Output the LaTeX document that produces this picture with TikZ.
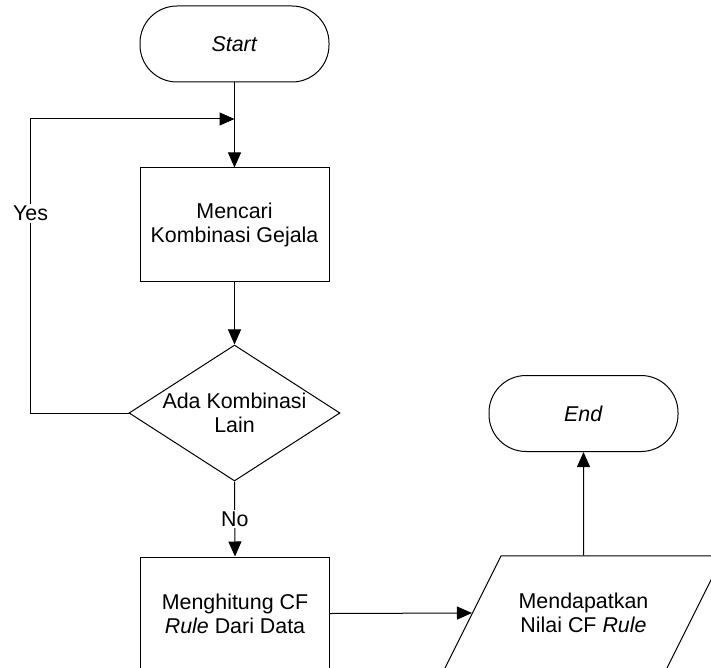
\documentclass[tikz,border=0pt]{standalone}
\usepackage{fontspec}
\setmainfont{Liberation Sans}
\usetikzlibrary{arrows.meta,shapes.geometric}
\tikzset{
    every node/.style={
	font=\fontsize{10.7pt}{12pt}\selectfont,
    },
    terminal/.style={
	rectangle,
	rounded corners=18.5pt,
	draw=black,
	line width=0.5pt,
	minimum width=94.5pt,
	minimum height=38pt,
	inner sep=0pt
    },
    process/.style={
	rectangle,
	draw=black,
	line width=0.5pt,
	minimum width=94.5pt,
	minimum height=56.5pt,
	align=center,
	inner sep=0pt
    },
    decision/.style={
	diamond,
	draw=black,
	line width=0.5pt,
	minimum width=105.5pt,
	minimum height=68pt,
	inner sep=0pt
    },
    io/.style={
	trapezium,
	trapezium left angle=63.43,
	trapezium right angle=116.57,
	trapezium stretches body,
	draw=black,
	line width=0.5pt,
	minimum width=139.5pt,
	align=center,
	inner xsep=0pt,
	inner ysep=18.6pt
    },
    flowlabel/.style={
	fill=white,
	inner sep=1pt
    },
    flow/.style={
	draw=black,
	line width=0.5pt,
	-{Triangle[length=7.5pt,width=6.5pt]}
    },
}

\begin{document}
\begin{tikzpicture}[x=0.5pt,y=-0.5pt]

    \useasboundingbox (0,0) rectangle (711,668);
    \clip (0,0) rectangle (711,668);

    \node[terminal] (START) at (234.5,44) {\textit{Start}};

    \node[process] (SEARCH) at (234.5,224.5) {%
	Mencari\\Kombinasi Gejala};

    \node[decision] (CHECK) at (234.5,413) {};
    \node[align=center] (CHECKTEXT) at (CHECK) {%
	Ada Kombinasi\\Lain};

    \node[process] (COUNT) at (235,613.5) {%
	Menghitung CF\\\textit{Rule} Dari Data};

    \node[io] (RESULT) at (583.5,613) {%
	Mendapatkan\\Nilai CF \textit{Rule}};

    \node[terminal] (END) at (583.5,413.5) {\textit{End}};

    \coordinate (JOIN) at (234.5,119);

    \draw[flow] (START) -- (SEARCH);
    \draw[flow] (SEARCH) -- (CHECK);
    \draw[flow] (CHECK.west) -- ++(-98,0) |- node[flowlabel, pos=0.34]
	{Yes} (JOIN);
    \draw[flow] (CHECK.south) -- node[flowlabel, pos=0.5]
	{No} (COUNT.north);
    \draw[flow] (COUNT.east) -- (RESULT.west);
    \draw[flow] (RESULT.north) -- (END.south);
\end{tikzpicture}
\end{document}
